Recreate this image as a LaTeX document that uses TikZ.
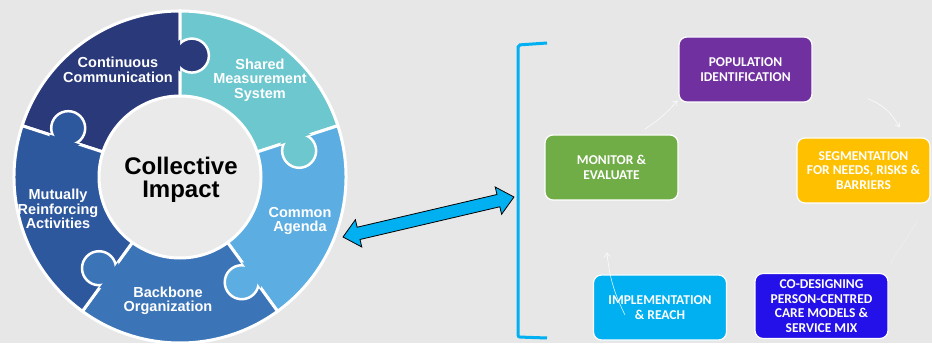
\documentclass[tikz,border=0pt]{standalone}
\usepackage{fontspec}
\setmainfont{Liberation Sans}
\newfontfamily\boxfont{Carlito}
\usetikzlibrary{arrows.meta}

\definecolor{bgcol}{HTML}{E7E7E7}
\definecolor{innercol}{HTML}{EAEAEA}
\definecolor{contcol}{HTML}{2A397A}
\definecolor{sharecol}{HTML}{6CC7CE}
\definecolor{agendacol}{HTML}{5BADE2}
\definecolor{backcol}{HTML}{3B74B7}
\definecolor{mutcol}{HTML}{2E589E}
\definecolor{popcol}{HTML}{7030A0}
\definecolor{moncol}{HTML}{70AD47}
\definecolor{segcol}{HTML}{FFC000}
\definecolor{implcol}{HTML}{00B0F0}
\definecolor{codescol}{RGB}{36,16,232}
\definecolor{linkcol}{HTML}{00B0F0}

\begin{document}
\begin{tikzpicture}[x=1pt,y=1pt,>={Straight Barb[length=4pt,width=6pt]}]
    \tikzset{
      piece/.style={font=\fontsize{14.5}{14.5}\selectfont\bfseries, text=white, align=center},
      box/.style={draw=white, line width=1.2pt, rounded corners=8pt, minimum width=133pt,
        minimum height=65pt, align=center, text=white, font=\boxfont\fontsize{13.5}{14.5}\selectfont\bfseries},
      flow/.style={->, white, line width=0.6pt, opacity=0.85}
    }
    \useasboundingbox (0,0) rectangle (932,343);
    \fill[bgcol] (0,0) rectangle (932,343);

    % Puzzle ring
    \begin{scope}[shift={(180,166)}]
      \foreach \a/\b/\c in {162/90/contcol, 90/18/sharecol, 18/-54/agendacol, -54/-126/backcol, -126/-198/mutcol}
        \filldraw[fill=\c, draw=white, line width=3pt] (\a:166) arc[start angle=\a, end angle=\b, radius=166]
          -- (\b:80) arc[start angle=\b, end angle=\a, radius=80] -- cycle;
      % knobs
      \foreach \d/\e/\k/\c in {90/162/84.4/contcol, 18/90/12.4/sharecol, -54/18/-59.6/agendacol, -126/-54/-131.6/backcol, 162/234/156.4/mutcol}{
        \filldraw[fill=\c, draw=white, line width=2.5pt] (\k:122) circle (17);
        \begin{scope}
          \clip (\k:122) circle (20);
          \fill[\c] (\e:166) arc[start angle=\e, end angle=\d, radius=166]
            -- (\d:80) arc[start angle=\d, end angle=\e, radius=80] -- cycle;
        \end{scope}
      }
      \filldraw[fill=innercol, draw=white, line width=3pt] (0,0) circle (81);
    \end{scope}

    \node[piece] (contlbl)   at (118,273) {Continuous\\Communication};
    \node[piece] (sharelbl)  at (260,263) {Shared\\Measurement\\System};
    \node[piece] (agendalbl) at (300,122) {Common\\Agenda};
    \node[piece] (backlbl)   at (168,42)  {Backbone\\Organization};
    \node[piece] (mutlbl)    at (58,134)  {Mutually\\Reinforcing\\Activities};
    \node[font=\fontsize{24}{23}\selectfont\bfseries, align=center] (core) at (181,163) {Collective\\Impact};

    % Bracket
    \draw[linkcol, line width=3pt, rounded corners=2pt] (547,300) -- (518,298) -- (518,6) -- (547,5);

    % Two-way link
    \coordinate (ringtip) at (343,106);
    \coordinate (brtip)   at (514,146);
    \begin{scope}[shift={(ringtip)}, rotate=13.17]
      \filldraw[fill=linkcol, draw=black, line width=0.8pt]
        (0,0) -- (16,14) -- (16,6.3) -- (159.6,6.3) -- (159.6,14) -- (175.6,0)
        -- (159.6,-14) -- (159.6,-6.3) -- (16,-6.3) -- (16,-14) -- cycle;
    \end{scope}

    % Cycle boxes
    \node[box, fill=popcol]   (pop)   at (745.5,273.5) {POPULATION\\IDENTIFICATION};
    \node[box, fill=moncol]   (mon)   at (611.5,175.5) {MONITOR \&\\EVALUATE};
    \node[box, fill=segcol]   (seg)   at (863.5,172.5) {SEGMENTATION\\FOR NEEDS, RISKS \&\\BARRIERS};
    \node[box, fill=implcol]  (impl)  at (660,35.5)    {IMPLEMENTATION\\\& REACH};
    \node[box, fill=codescol] (codes) at (821.5,37)    {CO-DESIGNING\\PERSON-CENTRED\\CARE MODELS \&\\SERVICE MIX};

    % Arrows
    \draw[flow] ([shift={(33,5)}]mon.north) to[bend right=8] ([shift={(-1,2)}]pop.south west);
    \draw[flow] ([shift={(55,4)}]pop.south east) to[bend left=20] ([shift={(36,10)}]seg.north);
    \draw[white, line width=0.6pt, opacity=0.3] ([shift={(-13,-17)}]seg.south east) -- ([shift={(2,10)}]codes.north east);
    \draw[flow] ([shift={(-35,-7.5)}]impl.center) to[bend left=10] ([shift={(14,22)}]impl.north west);

  \end{tikzpicture}
\end{document}
